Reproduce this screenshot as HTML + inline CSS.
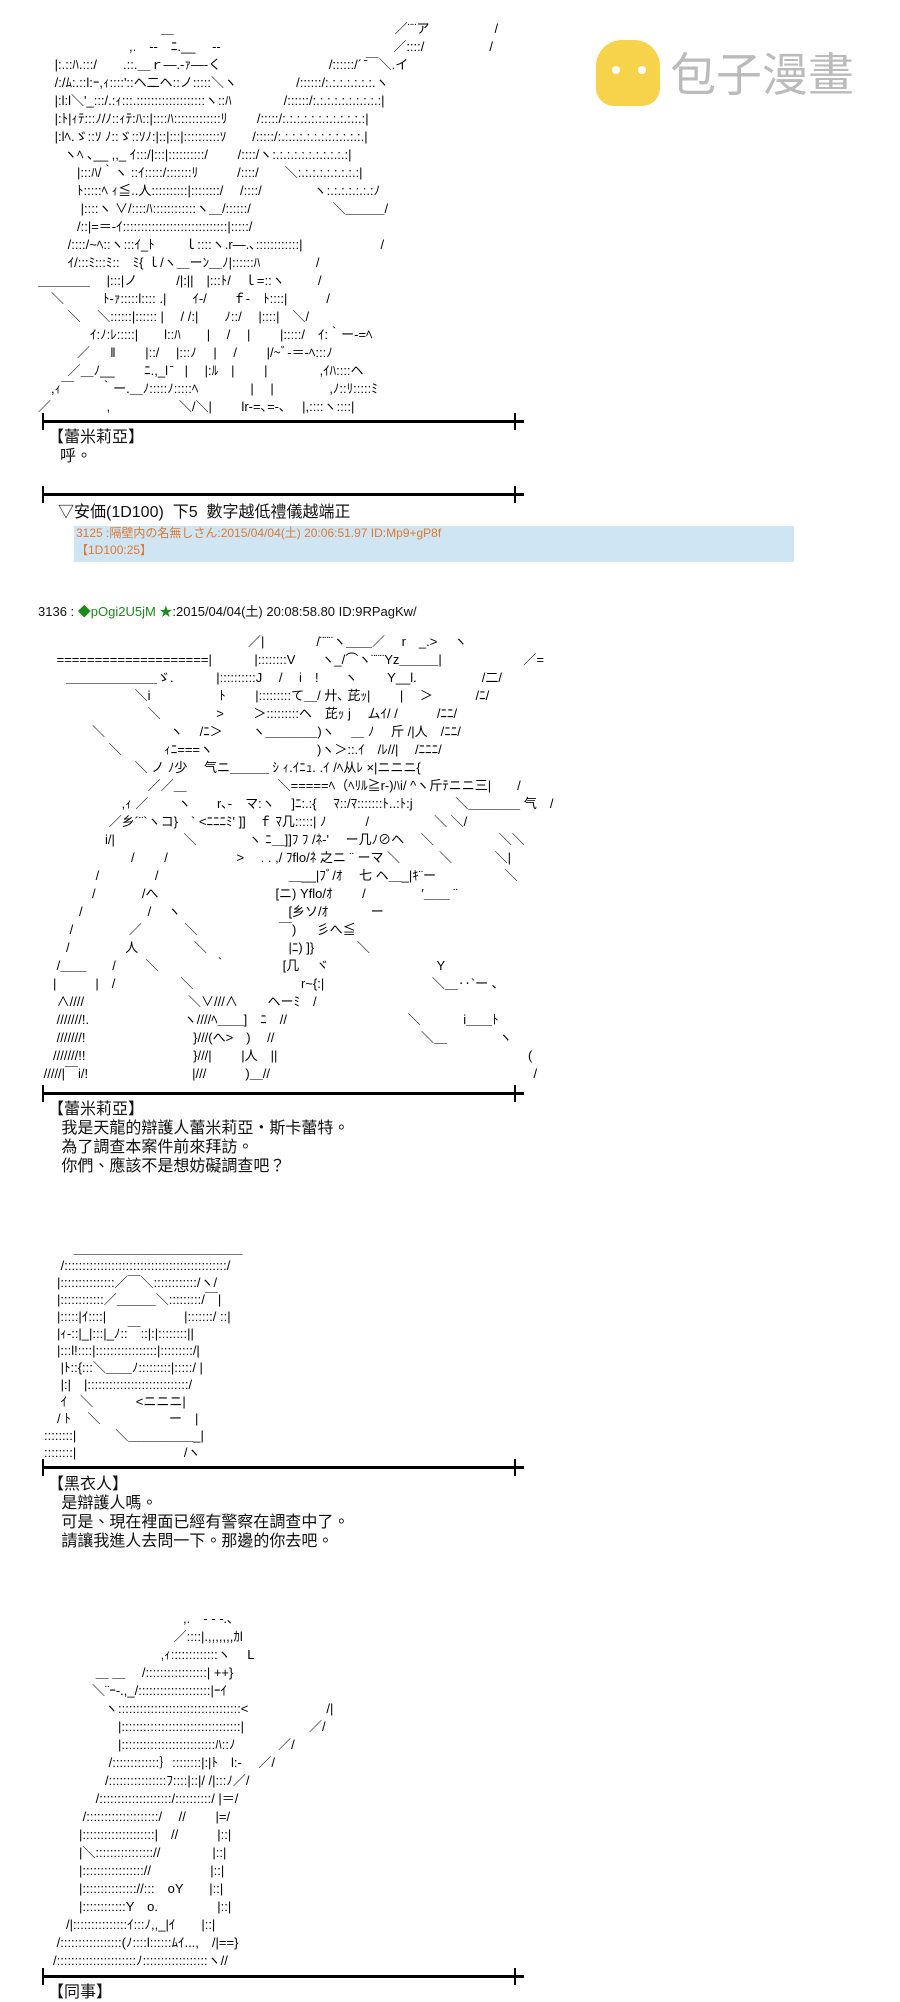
<!DOCTYPE html>
<html><head><meta charset="utf-8"><style>
body{margin:0;width:900px;height:2000px;background:#fff;position:relative;overflow:hidden;font-family:"Liberation Sans","Noto Sans CJK TC",sans-serif;}
.t{position:absolute;font-size:16px;line-height:19px;color:#111;white-space:pre;}
.aa{position:absolute;font-size:13px;line-height:18px;color:#000;white-space:pre;font-family:"Liberation Sans","Noto Sans CJK JP",sans-serif;letter-spacing:0px;}
.rule{position:absolute;left:42px;width:482px;height:3px;background:#000;}
.rule:before,.rule:after{content:"";position:absolute;top:-7px;width:2px;height:17px;background:#000;}
.rule:before{left:0}.rule:after{right:8px}
</style></head><body>

<div class="aa" style="left:38px;top:20px;">                                  ＿　　　　　　　　　　　　　　　　　／¨¨ア　　　　　/
　　　　　　　,.　-‐　ﾆ.__　 ‐-　　　　　　　　　　　　　 ／::::/　　　　　/
　 |:.::ﾊ.:::/　　.::.＿ｒ―.-ｧ―‐く　　　　　　　 　/::::::/´ ̄￣＼.イ
　 /:/ﾑ:.::l:ｰ,ｨ::::'::ヘ二ヘ::ノ:::::＼ヽ　　　 　 /::::::/:.:.:.:.:.:.:.ヽ
　 |:l:l＼'_:::/.:ｨ:::.:::::::::::::::::::ヽ::ﾊ　　　　/::::::/:.:.:.:.:.:.:.:.:.:|
　 |:ﾄ|ｨﾃ:::ﾉ/ﾉ::ｨﾃ:ﾊ::|::::ﾊ:::::::::::::ﾘ　　 /:::::/:.:.:.:.:.:.:.:.:.:.:.:|
　 |:lﾍ.ゞ::ｿ ﾉ::ゞ::ｿﾉ:|::|:::|::::::::::ｿ　　/:::::/:.:.:.:.:.:.:.:.:.:.:.:.|
　　ヽﾍ ､__ ,,_ ｲ:::/|:::|::::::::::/　　 /::::/ヽ:.:.:.:.:.:.:.:.:.:.:|
　　　|:::ﾊ/｀ヽ ::ｲ:::::/:::::::ﾘ　　　/::::/　　＼:.:.:.:.:.:.:.:.:|
　　　ﾄ:::::ﾍ ｨ≦..人::::::::::|::::::::/　 /::::/　　　　ヽ:.:.:.:.:.:.:ﾉ
　　　 |::::ヽ ∨/::::ﾊ::::::::::::ヽ＿/::::::/　　　　　　 ＼＿＿＿/
　　　/::|=＝-ｲ:::::::::::::::::::::::::::::|:::::/
　　 /::::/~ﾍ::ヽ:::ｲ_ﾄ　　 ｌ::::ヽ.r―.､::::::::::::|　　　　　　/
　　 ｲ/:::ﾐ:::ﾐ::　ﾐ{ ｌ/ヽ＿ーﾝ＿ﾉ|::::::ﾊ　　　　 /
＿＿＿＿　 |:::|ノ　　　/|:||　|:::ﾄ/　ｌ=::ヽ　 　 /
　＼　　　ﾄ-ｧ:::::l:::: .|　　ｲ-/　　ｆ-　ﾄ::::|　　　/
　　 ＼　 ＼::::::|:::::: |　 / /:|　　ﾉ::/　 |::::|　＼/
　　　　ｲ:ﾉ:ﾚ:::::|　　l::ﾊ　　|　 /　 |　　 |:::::/　ｲ:｀ー‐=ﾍ
　　　／ 　 ‖　　 |::/　 |:::ﾉ　 |　 /　　 |/~ﾞ‐＝-ﾍ:::ﾉ
　　 ／＿ﾉ__　　 ﾆ.,_l ̄　|　 |:ﾙ　|　　 |　　　　,ｲﾊ::::ヘ
　,ｨ￣　　｀ー.＿ﾉ:::::ﾉ:::::ﾍ　　　　|　 |　　　　 ,ﾉ::ﾘ:::::ﾐ
／　　　　 ,　　　　　 ＼/＼|　　 lr-=､=-､　 |,::::ヽ::::|</div>

<div style="position:absolute;left:596px;top:40px;width:64px;height:66px;background:#f6d34a;border-radius:26px 26px 18px 18px;"></div>
<div style="position:absolute;left:612px;top:66px;width:8px;height:8px;background:#fff;border-radius:50%;"></div>
<div style="position:absolute;left:638px;top:66px;width:8px;height:8px;background:#fff;border-radius:50%;"></div>
<div class="t" style="left:670px;top:46px;font-size:46px;line-height:52px;color:#bbb;font-family:'Noto Sans CJK TC',sans-serif;">包子漫畫</div>

<div class="rule" style="top:420px"></div>
<div class="t" style="left:48px;top:428px;">【蕾米莉亞】</div>
<div class="t" style="left:60px;top:447px;">呼。</div>

<div class="rule" style="top:493px"></div>
<div class="t" style="left:58px;top:503px;">▽安価(1D100)  下5  數字越低禮儀越端正</div>
<div style="position:absolute;left:74px;top:526px;width:720px;height:36px;background:#cfe5f3;"></div>
<div class="t" style="left:76px;top:525px;font-size:12px;line-height:17px;color:#e07a30;">3125 :隔壁内の名無しさん:2015/04/04(土) 20:06:51.97 ID:Mp9+gP8f
【1D100:25】</div>

<div class="t" style="left:38px;top:602px;font-size:13px;">3136 : <span style="color:#1a8a1a">◆pOgi2U5jM ★</span>:2015/04/04(土) 20:08:58.80 ID:9RPagKw/</div>

<div class="aa" style="left:40px;top:633px;line-height:18px;">　　　　　　　　　　　　　　　　／|　　　　/¨¨¨ヽ＿＿／　 r　_.> 　ヽ
　 ====================|　　　 |::::::::V　　ヽ_/⌒ヽ¨¨¨Yz＿＿＿|　　　　　 　／=
　　＿＿＿＿＿＿＿ゞ.　　　 |::::::::::J　 /　 i　!　　ヽ　　 Y__l.　　　　　/二/
　　　　　　　 ＼i　　　　　 ﾄ　　 |:::::::::て＿/ 廾､ 芘ｯ|　　 |　 ＞　　　 /ﾆ/
　　　　　　　　 ＼　　　　 >　　 ＞:::::::::ヘ　芘ｯ j　 ムｲ/ /　　　/ﾆﾆ/
　　　　＼　　　　　ヽ　 /ﾆ＞　 　ヽ＿＿＿＿)ヽ　 ＿ ﾉ　 斤 /|人　/ﾆﾆ/
　　　　　 ＼　　　 ｨﾆ===ヽ　　　　　　　　)ヽ＞::.ｲ　/ﾚ//|　 /ﾆﾆﾆ/
　　　　　　　 ＼ ノ ﾉ少　 气ニ＿＿＿ ｼ ｨ.ｲﾆｭ. .ｲ /ﾍ从ﾚ ×|ニニニ{
　　　　　　　　 ／／＿　　　　　　　＼=====ﾍ（ﾍﾘﾙ≧r-)ﾊi/ ^ヽ斤ﾃニニ三|　　/
　　　　　　 ,ｨ ／　　 ヽ　　r､-　マ:ヽ　 ]ﾆ:.:{　 ﾏ::/ﾏ:::::::ﾄ..:ﾄ:j　　　 ＼＿＿＿＿ 气　/
　　　　　 ／乡´¨`ヽコ}　` <ﾆﾆﾆﾐ' ]]　ｆ ﾏ几:::::| ﾉ　　　/　　　　　＼ ＼/
　　　　　i/|　　　　　 ＼　　　　ヽ ﾆ＿]]ﾌ ﾌ /ﾈ-'　 ー几ﾉ⊘ヘ　 ＼　　　　　＼＼
　　　　　　　/　　 /　　　　　 >　 . . ,/ ﾌflo/ﾈ 之ニ ¨ ーマ ＼　　　＼　　　 ＼|
　　　　 /　　　　 /　　　　　　　　　　＿__|ﾌﾞ/ｵ　 七 ヘ＿_|ｷ¨ー　　　　　 ＼
　　　　/　　 　 /へ　　　　　　　　　[ニ) Yflo/ｵ　　 /　　　　 ′＿＿ ¨
　　　/　　　　　/ 　ヽ　　　　　　　　 [乡ソ/ｵ　　　 ー
　　 /　　　　 ／　　　 ＼　　　　　　 ￣) 　 彡へ≦
　　/　　　　 人　　　　 ＼　　　　　　 |ﾆ) ]}　　　 ＼
　 /＿＿　　/ 　　＼　　　 　｀　　　　 [几 　ヾ　　　　　　　　 Y
　|　　　|　/　　　　　＼　　　　　　　　 r~{:|　　　　　　　　 ＼＿‥`ー ､
　 ∧////　　　　　　　　＼∨///∧　　 ヘーﾐ　/
　 ///////!.　　　　　　　 ヽ////ﾍ＿＿]　ﾆ　//　　　　　　　　　 ＼　　　 i＿＿ﾄ
　 ///////!　　　　　　　　 }///(へ>　) 　//　　　　　　　　　　　 ＼＿　　　　ヽ
　///////!!　　　　　　　　 }///|　　 |人　||　　　　　　　　　　　　　　　　　　　 (
 /////|￣i/!　　　　　　　　|///　　　)＿//　　　　　　　　　　　　　　　　　　　　 /</div>

<div class="rule" style="top:1092px"></div>
<div class="t" style="left:48px;top:1100px;">【蕾米莉亞】
   我是天龍的辯護人蕾米莉亞・斯卡蕾特。
   為了調查本案件前來拜訪。
   你們、應該不是想妨礙調查吧？</div>

<div class="aa" style="left:44px;top:1240px;line-height:17px;">　　 ＿＿＿＿＿＿＿＿＿＿＿＿＿
　 /:::::::::::::::::::::::::::::::::::::::::::::/
　|:::::::::::::::／￣＼::::::::::::/ヽ/
　|::::::::::::／＿＿＿＼:::::::::/￣|
　|:::::|ｲ::::|　　　　　　|:::::::/ ::|
　|ｨ-::|_|:::|_ﾉ::￣::|:|::::::::||
　|:::l!::::|:::::::::::::::::|:::::::::/|
　 |ﾄ::{:::＼＿＿ﾉ:::::::::|:::::/ |
　 |:|　|::::::::::::::::::::::::::::/
　 ｲ　＼　　　 <ニニニ|
　/ ﾄ　 ＼　　　　　 ー　|
::::::::|　　　＼＿＿＿＿＿_|
::::::::|　　　　　　　　 /ヽ</div>

<div class="rule" style="top:1466px"></div>
<div class="t" style="left:48px;top:1475px;">【黑衣人】
   是辯護人嗎。
   可是、現在裡面已經有警察在調查中了。
   請讓我進人去問一下。那邊的你去吧。</div>

<div class="aa" style="left:40px;top:1610px;">　　　　　　　　　　　,.　- ‐ -.､
　　　　　　　　　　 ／::::|.,,,,,,,ｶl
　　　　　　　　　 ,ｨ:::::::::::::ヽ　 L
　　　　 ＿ ＿　 /:::::::::::::::::| ++}
　　　　＼¨ｰ-.,_/::::::::::::::::::::|ｰｲ
　　　　　ヽ::::::::::::::::::::::::::::::::::<　　　　　　/|
　　　　　　|:::::::::::::::::::::::::::::::::|　　　　　／/
　　　　　　|::::::::::::::::::::::::::ﾊ::ﾉ　　　 ／/
　　　　　 /:::::::::::::｝::::::::|:|ﾄ　l:-　 ／/
　　　　　/::::::::::::::::ﾌ::::|::|/ /|:::ﾉ／/
　　　　 /::::::::::::::::::::/::::::::::/ |＝/
　　　 /::::::::::::::::::::/　 //　　 |=/
　　　|::::::::::::::::::::|　//　　　|::|
　　　|＼:::::::::::::::://　　　　|::|
　　　|::::::::::::::::://　　 　　 |::|
　　　|::::::::::::::://:::　oY　　|::|
　　　|::::::::::::Y　o.　 　　　 |::|
　　/|:::::::::::::::ｲ:::ﾉ,,_|ｲ　　|::|
　 /:::::::::::::::::(ﾉ::::l::::::ﾑｲ...,　/|==}
　/::::::::::::::::::::::ﾉ::::::::::::::::::ヽ//</div>

<div class="rule" style="top:1975px"></div>
<div class="t" style="left:48px;top:1983px;">【同事】</div>
</body></html>
